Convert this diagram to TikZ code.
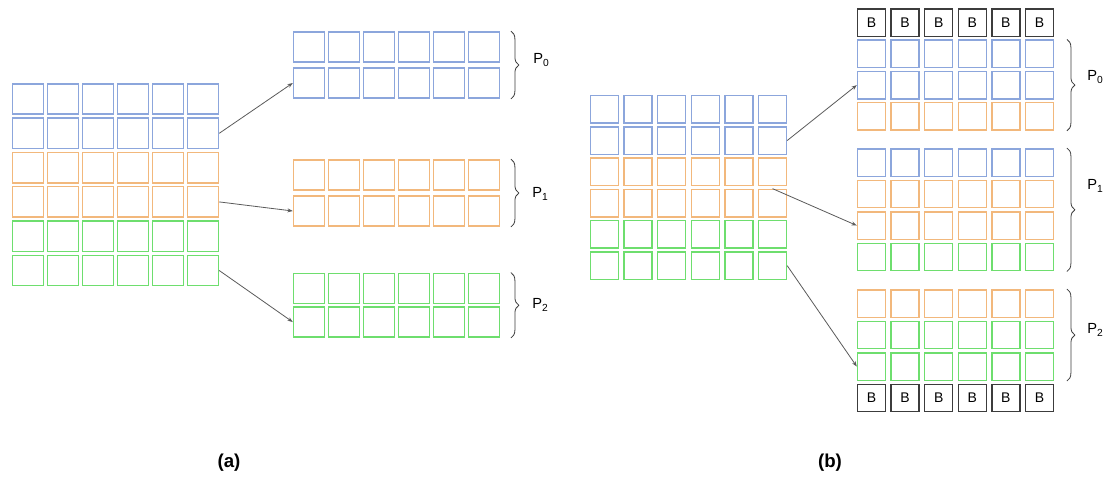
\documentclass[tikz,border=0pt]{standalone}
\usepackage{fontspec}
\setmainfont{Liberation Sans}
\usetikzlibrary{arrows.meta,decorations.pathreplacing}
\definecolor{bA}{RGB}{140,166,220}
\definecolor{oA}{RGB}{242,184,124}
\definecolor{gA}{RGB}{110,222,110}
\definecolor{bk}{RGB}{60,60,60}
\definecolor{arrC}{RGB}{90,90,90}
\tikzset{
  acell/.style={draw, line width=1.1pt, minimum width=23.25pt, minimum height=22.8pt, inner sep=0pt},
  bcellc/.style={draw, line width=1.1pt, minimum width=21pt, minimum height=20.6pt, inner sep=0pt},
  bbox/.style={bcellc, draw=bk, font=\fontsize{10.5}{11}\selectfont},
  arr/.style={draw=arrC, line width=0.6pt, -{Stealth[length=4pt,width=3pt]}},
  brc/.style={draw=bk, line width=0.6pt, decorate, decoration={brace, amplitude=6pt}},
  plab/.style={anchor=west, font=\fontsize{11}{12}\selectfont, inner sep=0pt},
  captxt/.style={font=\fontsize{14}{16}\selectfont\bfseries}
}
\begin{document}
\begin{tikzpicture}[x=0.75pt,y=-0.75pt]
\useasboundingbox (0,0) rectangle (1105,480);
% ---------- (a) left grid
\foreach \r/\c in {1/bA,2/bA,3/oA,4/oA,5/gA,6/gA}
  \foreach \k in {1,...,6}
    \node[acell, draw=\c] (aL-\r-\k) at ({28+35*(\k-1)}, {99+34.3*(\r-1)}) {};
% ---------- (a) right groups
\foreach \r/\y/\c in {1/47/bA,2/83/bA,3/175/oA,4/211/oA,5/288.5/gA,6/322/gA}
  \foreach \k in {1,...,6}
    \node[acell, draw=\c] (aR-\r-\k) at ({309+35*(\k-1)}, \y) {};
% braces (a)
\draw[brc] ([xshift=8pt]aR-1-6.north east) -- ([xshift=8pt]aR-2-6.south east);
\draw[brc] ([xshift=8pt]aR-3-6.north east) -- ([xshift=8pt]aR-4-6.south east);
\draw[brc] ([xshift=8pt]aR-5-6.north east) -- ([xshift=8pt]aR-6-6.south east);
\node[plab] (pa0) at (533,60) {P\textsubscript{0}};
\node[plab] (pa1) at (532,194) {P\textsubscript{1}};
\node[plab] (pa2) at (532,305) {P\textsubscript{2}};
% arrows (a)
\draw[arr] (aL-2-6.east) -- (aR-2-1.west);
\draw[arr] (aL-4-6.east) -- (aR-4-1.west);
\draw[arr] (aL-6-6.east) -- (aR-6-1.west);
% ---------- (b) left grid
\foreach \r/\c in {1/bA,2/bA,3/oA,4/oA,5/gA,6/gA}
  \foreach \k in {1,...,6}
    \node[bcellc, draw=\c] (bL-\r-\k) at ({604.5+33.6*(\k-1)}, {109.2+31.3*(\r-1)}) {};
% ---------- (b) right grid
\foreach \k in {1,...,6}
  \node[bbox] (bR-0-\k) at ({871.5+33.6*(\k-1)}, 22.5) {B};
\foreach \r/\y/\c in {1/53.8/bA,2/85.1/bA,3/116.4/oA,4/162.5/bA,5/194/oA,6/225.5/oA,7/257/gA,8/303.5/oA,9/335/gA,10/366.5/gA}
  \foreach \k in {1,...,6}
    \node[bcellc, draw=\c] (bR-\r-\k) at ({871.5+33.6*(\k-1)}, \y) {};
\foreach \k in {1,...,6}
  \node[bbox] (bR-11-\k) at ({871.5+33.6*(\k-1)}, 398) {B};
% braces (b)
\draw[brc] ([xshift=9.5pt]bR-1-6.north east) -- ([xshift=9.5pt]bR-3-6.south east);
\draw[brc] ([xshift=9.5pt]bR-4-6.north east) -- ([xshift=9.5pt]bR-7-6.south east);
\draw[brc] ([xshift=9.5pt]bR-8-6.north east) -- ([xshift=9.5pt]bR-10-6.south east);
\node[plab] (pb0) at (1087,77) {P\textsubscript{0}};
\node[plab] (pb1) at (1087,186) {P\textsubscript{1}};
\node[plab] (pb2) at (1087,330) {P\textsubscript{2}};
% arrows (b)
\draw[arr] (bL-2-6.east) -- (bR-2-1.west);
\draw[arr] (bL-4-6.north) -- (bR-6-1.west);
\draw[arr] (bL-6-6.east) -- (bR-10-1.west);
% captions
\node[captxt] (capa) at (229,463) {(a)};
\node[captxt] (capb) at (830,463) {(b)};
\end{tikzpicture}
\end{document}
